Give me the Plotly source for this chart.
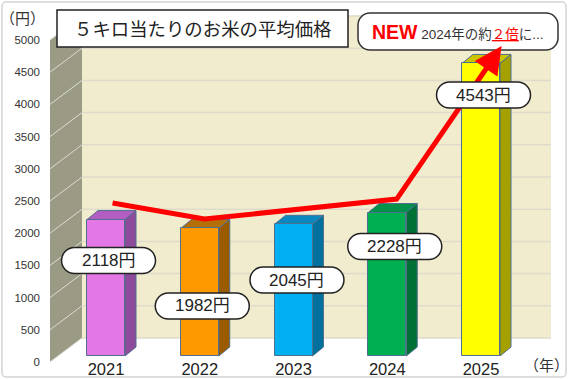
import plotly.graph_objects as go

# ---------------- data ----------------
years = ["2021", "2022", "2023", "2024", "2025"]
prices = [2118, 1982, 2045, 2228, 4543]
price_labels = [f"{v}円" for v in prices]
y_ticks = [0, 500, 1000, 1500, 2000, 2500, 3000, 3500, 4000, 4500, 5000]

front_colors = ["#e377e6", "#ff9900", "#00b0f0", "#00b050", "#ffff00"]
top_colors = ["#b25ec2", "#b56f08", "#0b87c0", "#00914a", "#c9c600"]
side_colors = ["#8e4a9b", "#9a5a00", "#00709c", "#007035", "#a3a000"]

# red trend arrow points (category index, value)
trend_x = [0.07, 1.05, 3.1, 4.22]
trend_y = [2470, 2220, 2530, 4905]

# label placement (offset from category, value height)
label_dx = [0.027, 0.027, 0.037, 0.08, 0.027]
label_y = [1576, 870, 1273, 1793, 4146]

# ---------------- geometry ----------------
W, H = 570, 380
PL, PR, PT, PB = 50, 570, 0, 362
PX_PER_CAT = 93.75
CAT0_PX = 106
X_RANGE = [(PL - CAT0_PX) / PX_PER_CAT, (PR - CAT0_PX) / PX_PER_CAT]
Y_MAX = 5000 * (PB - PT) / (PB - 40)
PX_PER_VAL = (PB - PT) / Y_MAX


def dxv(px):
    return px / PX_PER_CAT


def dyv(px):
    return px / PX_PER_VAL


def pxx(px):
    return (px - PL) / (PR - PL)


def pxy(py):
    return (PB - py) / (PB - PT)


def rrect_path(w, h, r):
    k = 0.5523 * r
    x0, x1, y0, y1 = -w / 2, w / 2, -h / 2, h / 2
    return (f"M{x0 + r},{y1} L{x1 - r},{y1} C{x1 - r + k},{y1} {x1},{y1 - r + k} {x1},{y1 - r} "
            f"L{x1},{y0 + r} C{x1},{y0 + r - k} {x1 - r + k},{y0} {x1 - r},{y0} "
            f"L{x0 + r},{y0} C{x0 + r - k},{y0} {x0},{y0 + r - k} {x0},{y0 + r} "
            f"L{x0},{y1 - r} C{x0},{y1 - r + k} {x0 + r - k},{y1} {x0 + r},{y1} Z")


BAR_BASE = dyv(6)
BAR_W = dxv(38)
BAR_DX, BAR_DY = dxv(11), dyv(9)
WALL_DX, WALL_DY = dxv(32), dyv(24)
SIDE_X0 = X_RANGE[0]
SIDE_X1 = SIDE_X0 + WALL_DX
BACK_X1 = (551 - CAT0_PX) / PX_PER_CAT

shapes = []
# side wall
shapes.append(dict(type="path", xref="x", yref="y", layer="below",
                   path=f"M{SIDE_X0},0 L{SIDE_X0},{y_ticks[-1]} L{SIDE_X1},{y_ticks[-1] + WALL_DY} "
                        f"L{SIDE_X1},{WALL_DY} Z",
                   fillcolor="#9b9a85", line=dict(width=0)))
# back wall
shapes.append(dict(type="rect", xref="x", yref="y", layer="below",
                   x0=SIDE_X1, x1=BACK_X1, y0=WALL_DY, y1=y_ticks[-1] + WALL_DY,
                   fillcolor="#f2ecce", line=dict(width=0)))
for t in y_ticks:
    shapes.append(dict(type="line", xref="x", yref="y", layer="below",
                       x0=SIDE_X0, y0=t, x1=SIDE_X1, y1=t + WALL_DY,
                       line=dict(color="#dcdcd4", width=1)))
    shapes.append(dict(type="line", xref="x", yref="y", layer="below",
                       x0=SIDE_X1, y0=t + WALL_DY, x1=BACK_X1, y1=t + WALL_DY,
                       line=dict(color="#dedbcb", width=1.5)))

# 3D faces of bars
for i, v in enumerate(prices):
    xl, xr = i - BAR_W / 2, i + BAR_W / 2
    top = BAR_BASE + v
    shapes.append(dict(type="path", xref="x", yref="y", layer="below",
                       path=f"M{xl},{top} L{xl + BAR_DX},{top + BAR_DY} L{xr + BAR_DX},{top + BAR_DY} L{xr},{top} Z",
                       fillcolor=top_colors[i], line=dict(color="#4f6f8f", width=1)))
    shapes.append(dict(type="path", xref="x", yref="y", layer="below",
                       path=f"M{xr},{BAR_BASE} L{xr},{top} L{xr + BAR_DX},{top + BAR_DY} L{xr + BAR_DX},{BAR_BASE + BAR_DY} Z",
                       fillcolor=side_colors[i], line=dict(color="#4f6f8f", width=1)))

# value pills
for i, v in enumerate(prices):
    shapes.append(dict(type="path", xref="x", yref="y", layer="above",
                       xsizemode="pixel", ysizemode="pixel",
                       xanchor=i + label_dx[i], yanchor=label_y[i],
                       path=rrect_path(94, 26, 13),
                       fillcolor="white", line=dict(color="#222222", width=1.5)))

# title box
shapes.append(dict(type="rect", xref="paper", yref="paper", layer="above",
                   x0=pxx(57), x1=pxx(348), y0=pxy(47), y1=pxy(10),
                   fillcolor="white", line=dict(color="#222222", width=1.5)))
# callout box
shapes.append(dict(type="path", xref="paper", yref="paper", layer="above",
                   xsizemode="pixel", ysizemode="pixel",
                   xanchor=pxx(458), yanchor=pxy(31.5),
                   path=rrect_path(200, 37, 12),
                   fillcolor="white", line=dict(color="#333333", width=1.5)))
# outer frame
shapes.append(dict(type="path", xref="paper", yref="paper", layer="above",
                   xsizemode="pixel", ysizemode="pixel",
                   xanchor=pxx(284), yanchor=pxy(189.5),
                   path=rrect_path(564, 375, 4),
                   fillcolor="rgba(0,0,0,0)", line=dict(color="#d4d4d4", width=1.5)))

fig = go.Figure()
fig.add_trace(go.Bar(x=list(range(len(years))), y=prices, base=BAR_BASE, width=BAR_W,
                     marker=dict(color=front_colors, line=dict(color="#4f6f8f", width=1)),
                     hoverinfo="skip", showlegend=False))

# red trend line, stopping short of the arrow tip
f = 0.12
px_end = trend_x[-1] - f * (trend_x[-1] - trend_x[-2])
py_end = trend_y[-1] - f * (trend_y[-1] - trend_y[-2])
fig.add_trace(go.Scatter(x=trend_x[:-1] + [px_end], y=trend_y[:-1] + [py_end],
                         mode="lines", line=dict(color="#ff0000", width=5),
                         hoverinfo="skip", showlegend=False))

FONT = "Liberation Sans, Arial, Noto Sans CJK JP, sans-serif"
JP = "Noto Sans CJK JP, sans-serif"

annotations = []
annotations.append(dict(x=trend_x[-1], y=trend_y[-1], ax=px_end, ay=py_end, xref="x", yref="y",
                        axref="x", ayref="y", text="", showarrow=True, arrowhead=2,
                        arrowwidth=5, arrowsize=1.1, arrowcolor="#ff0000", standoff=0))
for i, v in enumerate(prices):
    annotations.append(dict(x=i + label_dx[i], y=label_y[i], xref="x", yref="y",
                            xanchor="center", yanchor="middle",
                            text=price_labels[i], showarrow=False,
                            font=dict(family=FONT, size=17, color="#222222")))
annotations.append(dict(x=pxx(202.5), y=pxy(28.5), xref="paper", yref="paper",
                        xanchor="center", yanchor="middle",
                        text="５キロ当たりのお米の平均価格", showarrow=False,
                        font=dict(family=JP, size=18.4, color="#222222")))
annotations.append(dict(x=pxx(458), y=pxy(31.5), xref="paper", yref="paper",
                        xanchor="center", yanchor="middle",
                        text=("<span style='color:#ff0000;font-size:19.5px'><b>NEW</b></span> "
                              "2024年の約<span style='color:#ff0000;text-decoration:underline'>２倍</span>に..."),
                        showarrow=False,
                        font=dict(family=FONT, size=13.5, color="#333333")))
annotations.append(dict(x=pxx(22), y=pxy(17), xref="paper", yref="paper",
                        xanchor="center", yanchor="middle",
                        text="（円）", showarrow=False,
                        font=dict(family=JP, size=15, color="#333333")))
annotations.append(dict(x=pxx(546), y=pxy(364), xref="paper", yref="paper",
                        xanchor="center", yanchor="middle",
                        text="（年）", showarrow=False,
                        font=dict(family=JP, size=15, color="#333333")))

fig.update_layout(
    width=W, height=H,
    margin=dict(l=PL, r=W - PR, t=PT, b=H - PB, autoexpand=False),
    paper_bgcolor="white", plot_bgcolor="rgba(0,0,0,0)",
    shapes=shapes, annotations=annotations,
    font=dict(family=FONT),
    bargap=0,
    xaxis=dict(range=X_RANGE, tickvals=list(range(len(years))), ticktext=years,
               showgrid=False, zeroline=False, showline=False, ticks="", automargin=False,
               ticklabelstandoff=-5,
               tickfont=dict(family=FONT, size=16.5, color="#222222"), fixedrange=True),
    yaxis=dict(range=[0, Y_MAX], tickvals=y_ticks, ticktext=[str(t) for t in y_ticks],
               showgrid=False, zeroline=False, showline=False, ticks="", automargin=False,
               ticklabelstandoff=9,
               tickfont=dict(family=FONT, size=11.5, color="#333333"), fixedrange=True),
)

fig.write_html("out.html", config={"displayModeBar": False},
               post_script="document.body.style.margin='0px';document.body.style.overflow='hidden';")
